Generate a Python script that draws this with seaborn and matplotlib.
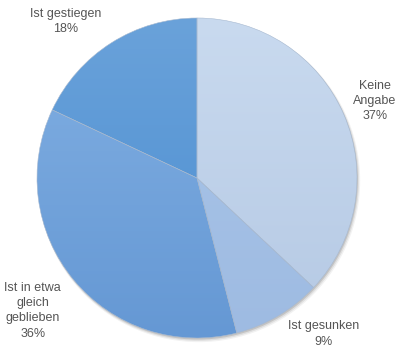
import numpy as np
import matplotlib
matplotlib.use("Agg")
import matplotlib.pyplot as plt
import seaborn as sns
from matplotlib.colors import LinearSegmentedColormap

sns.set_theme(style="white")
plt.rcParams["font.family"] = ["Liberation Sans", "DejaVu Sans"]

# Survey answers, clockwise from 12 o'clock
categories = ["Keine\nAngabe", "Ist gesunken", "Ist in etwa\ngleich\ngeblieben", "Ist gestiegen"]
shares = [37, 9, 36, 18]
# top / bottom shade of each slice
top_colors = ["#c9daef", "#aac6e9", "#82b0e3", "#6aa2da"]
bottom_colors = ["#b5c9e4", "#9ebbe2", "#6598d4", "#4a8dd1"]
# label placement: distance from centre and angular nudge (degrees, clockwise)
label_dist = [1.21, 1.255, 1.32, 1.28]
label_nudge = [0.0, -8.4, 0.6, -7.6]

fig = plt.figure(figsize=(3.95, 3.49), dpi=100)
ax = fig.add_axes([0, 0, 1, 1])
ax.axis("off")

# soft drop shadow under the pie
for k, a in enumerate([0.05, 0.08, 0.12]):
    sh = plt.Circle((0.012 - 0.003 * k, -0.018 + 0.004 * k), 1.0 + 0.004 * (2 - k),
                    color="black", alpha=a, lw=0, zorder=0)
    ax.add_patch(sh)

wedges, _ = ax.pie(shares, startangle=90, counterclock=False, radius=1.0,
                   colors=bottom_colors, wedgeprops=dict(linewidth=0.4, edgecolor="#a7b9d0"))

grad = np.linspace(1, 0, 256).reshape(-1, 1)
for w, ct, cb in zip(wedges, top_colors, bottom_colors):
    cmap = LinearSegmentedColormap.from_list("g", [cb, ct])
    im = ax.imshow(grad, cmap=cmap, extent=(-1, 1, -1, 1), origin="upper",
                   aspect="auto", zorder=1.5, interpolation="bilinear")
    im.set_clip_path(w)
for w in wedges:
    w.set_facecolor("none")
    w.set_zorder(2)
ax.set_xlim(-197 / 160, 198 / 160)
ax.set_ylim(-171 / 160, 178 / 160)

cum = np.cumsum([0] + shares)
for i, (lab, v) in enumerate(zip(categories, shares)):
    mid = (cum[i] + v / 2) / sum(shares) * 360 + label_nudge[i]
    ang = np.deg2rad(90 - mid)
    d = label_dist[i]
    ax.text(d * np.cos(ang), d * np.sin(ang), f"{lab}\n{v}%", ha="center", va="center",
            fontsize=9, color="#555555", linespacing=1.35)

fig.savefig("out.png", dpi=100)
